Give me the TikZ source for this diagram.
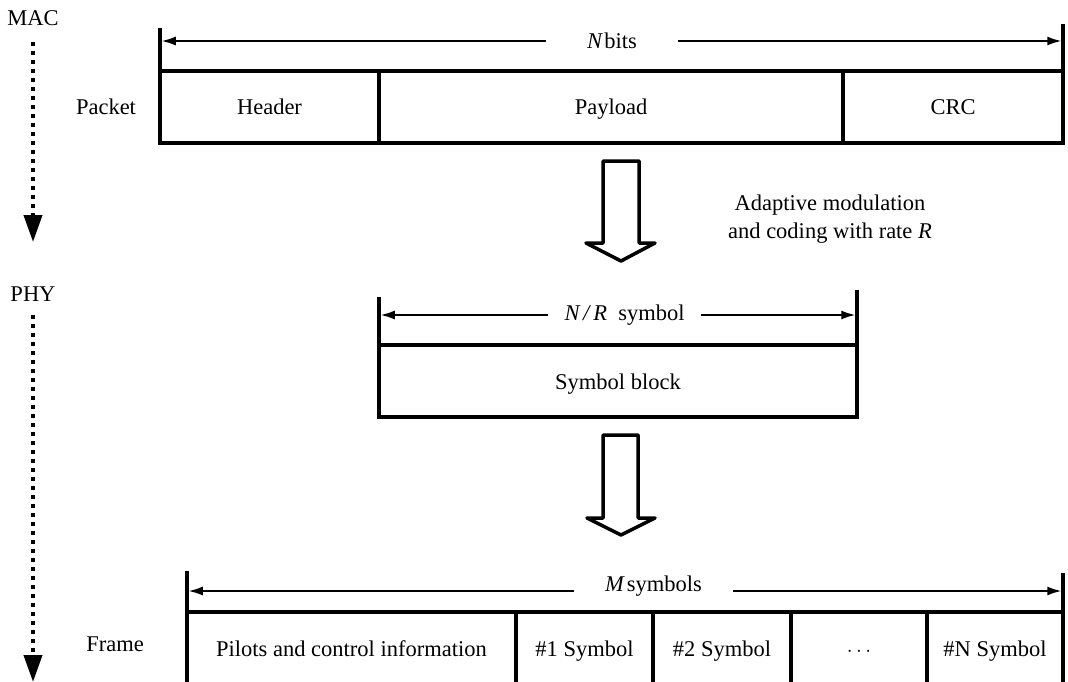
\documentclass[tikz,border=0pt]{standalone}
\usepackage{fontspec}
\setmainfont{Liberation Serif}
\usetikzlibrary{arrows.meta}
\begin{document}
\begin{tikzpicture}[x=1pt,y=-1pt,
  every node/.style={font=\fontsize{22.5}{28}\selectfont, inner sep=0pt},
  cell/.style n args={2}{draw, line width=3.5pt, minimum width=#1, minimum height=#2,
    text height=21pt, text depth=5pt},
  tick/.style={line width=3.5pt},
  dim/.style={line width=1.5pt, -{Latex[length=14pt,width=9pt]}, shorten >=1.75pt},
  dimlabel/.style={inner xsep=#1, inner ysep=2pt},
  layerarrow/.style={line width=4pt, dash pattern=on 4pt off 5pt,
    -{Triangle[length=27pt,width=18pt]}},
  blockarrow/.style={line width=3.5pt, line join=round, fill=white}]
\clip (0,0) rectangle (1068,682);

% layer labels and the top-down dotted arrows
\node (mac) at (33,18) {MAC};
\node (phy) at (33,294) {PHY};
\coordinate (macA) at (33,42);
\coordinate (macB) at (33,242);
\coordinate (phyA) at (33,315);
\coordinate (phyB) at (33,682);
\draw[layerarrow] (macA) -- (macB);
\draw[layerarrow] (phyA) -- (phyB);

% MAC packet
\node (packet) at (106,107) {Packet};
\node[cell={219pt}{72pt}] (hdr) at (269.5,107) {Header};
\node[cell={464pt}{72pt}] (pay) at (611,107) {Payload};
\node[cell={220pt}{72pt}] (crc) at (953,107) {CRC};

\coordinate (pT1) at (160,28);  \coordinate (pB1) at (160,71);
\coordinate (pT2) at (1063,24); \coordinate (pB2) at (1063,71);
\draw[tick] (pT1) -- (pB1);
\draw[tick] (pT2) -- (pB2);
\coordinate (pL) at (160,41);
\coordinate (pR) at (1063,41);
\node[dimlabel=41pt] (nbits) at (612,41) {\textit{N}\hspace{1pt}bits};
\draw[dim] (nbits.west) -- (pL);
\draw[dim] (nbits.east) -- (pR);

% modulation and coding step
\draw[blockarrow] (603,161) -- (639,161) -- (639,243) -- (655,243) -- (621,261)
  -- (586,243) -- (603,243) -- cycle;
\node[align=center] (amc) at (830,219) {Adaptive modulation\\and coding with rate \textit{R}};

% PHY symbol block
\node[cell={478pt}{72pt}] (sblk) at (618,381) {Symbol block};
\coordinate (sT1) at (379,297); \coordinate (sB1) at (379,345);
\coordinate (sT2) at (857,290); \coordinate (sB2) at (857,345);
\draw[tick] (sT1) -- (sB1);
\draw[tick] (sT2) -- (sB2);
\coordinate (sL) at (379,315);
\coordinate (sR) at (857,315);
\node[dimlabel=16pt] (nr) at (624.5,315) {\textit{N\,/\,R}\ \ symbol};
\draw[dim] (nr.west) -- (sL);
\draw[dim] (nr.east) -- (sR);

% framing step
\draw[blockarrow] (603,435) -- (638,435) -- (638,518) -- (655,518) -- (621,535)
  -- (587,518) -- (603,518) -- cycle;

% PHY frame
\node (frame) at (115,644) {Frame};
\node[cell={329pt}{72pt}] (pil) at (351.5,648) {Pilots and control information};
\node[cell={137pt}{72pt}] (s1) at (584.5,648) {\#1 Symbol};
\node[cell={138pt}{72pt}] (s2) at (722,648) {\#2 Symbol};
\node[cell={136pt}{72pt}] (sd) at (859,648) {$\cdots$};
\node[cell={136pt}{72pt}] (sn) at (995,648) {\#N Symbol};

\coordinate (fT1) at (187,571);  \coordinate (fB1) at (187,612);
\coordinate (fT2) at (1063,573); \coordinate (fB2) at (1063,612);
\draw[tick] (fT1) -- (fB1);
\draw[tick] (fT2) -- (fB2);
\coordinate (fL) at (187,591);
\coordinate (fR) at (1063,591);
\node[dimlabel=31pt] (msym) at (653.5,586) {\textit{M}\hspace{2pt}symbols};
\draw[dim] (msym.west |- fL) -- (fL);
\draw[dim] (msym.east |- fR) -- (fR);
\end{tikzpicture}
\end{document}
